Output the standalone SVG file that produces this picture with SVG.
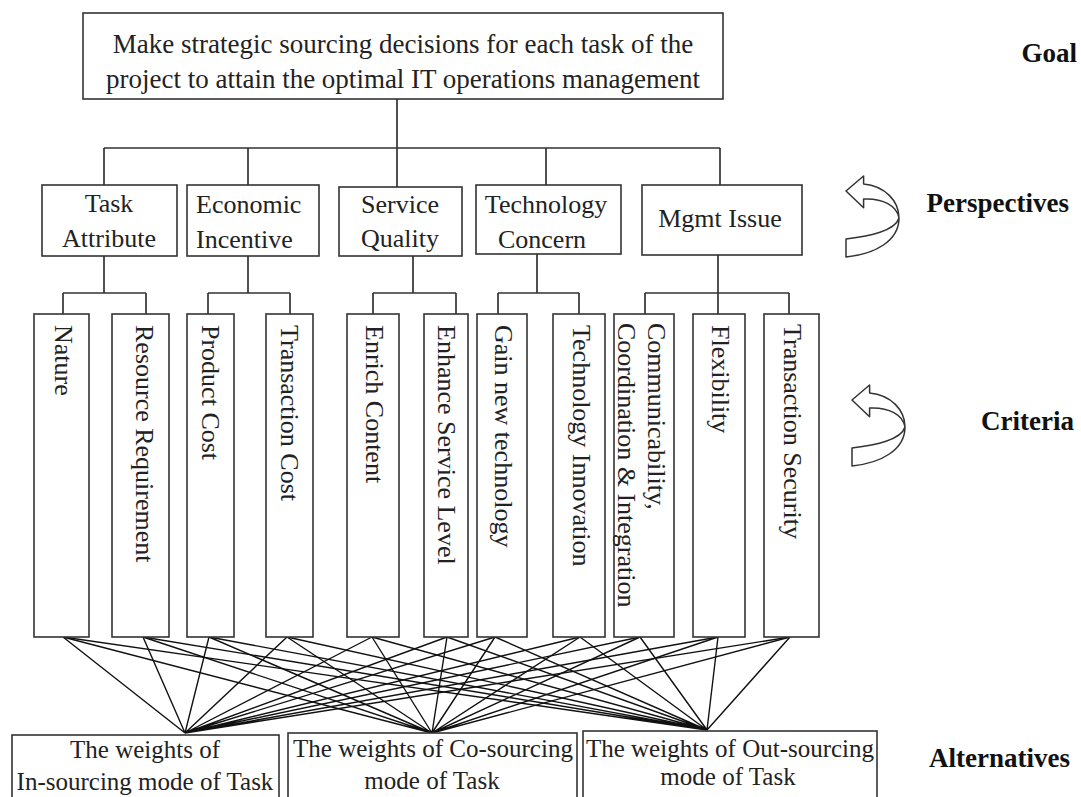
<svg xmlns="http://www.w3.org/2000/svg" width="1081" height="797" viewBox="0 0 1081 797">
<style>
.box{fill:#fff;stroke:#333;stroke-width:1.6}
.t{font-family:"Liberation Serif","Times New Roman",serif;fill:#222}
.g{font-size:27px;text-anchor:middle}
.p{font-size:26px;text-anchor:middle}
.c{font-size:26px}
.a{font-size:25px;text-anchor:middle}
.lbl{font-family:"Liberation Serif","Times New Roman",serif;font-weight:bold;font-size:27px;fill:#111;text-anchor:end}
.ln{stroke:#333;stroke-width:1.7;fill:none}
.mesh{stroke:#111;stroke-width:1.4;fill:none}
.arr{fill:#fff;stroke:#333;stroke-width:1.5;stroke-linejoin:round}
</style>
<defs>
<path id="curl" class="arr" d="M1,15 L18.6,0 L18.6,8 C40,10 54,25 54,42 C54,65 30,78 1,81 L1,63 C25,60 50,55 54,42 C52,30 38,22 18.6,23 L18.6,31.7 Z"/>
</defs>

<g id="connectors">
<path class="ln" d="M397,99 V148 M104,148 H720 M104,148 V185 M248,148 V185 M397,148 V187 M546,148 V185 M720,148 V185"/>
<path class="ln" d="M104,256 V293 M63,293 H146 M63,293 V314 M146,293 V314"/>
<path class="ln" d="M248,256 V293 M208,293 H290 M208,293 V314 M290,293 V314"/>
<path class="ln" d="M413,256 V293 M373,293 H456 M373,293 V314 M456,293 V314"/>
<path class="ln" d="M537,254 V293 M498,293 H579 M498,293 V314 M579,293 V314"/>
<path class="ln" d="M718,255 V293 M645,293 H789 M645,293 V314 M718,293 V314 M789,293 V314"/>
<path class="mesh" d="M63,637 L185,733 M143,637 L185,733 M209,637 L185,733 M287,637 L185,733 M372,637 L185,733 M447,637 L185,733 M495,637 L185,733 M580,637 L185,733 M640,637 L185,733 M718,637 L185,733 M790,637 L185,733"/>
<path class="mesh" d="M63,637 L432,733 M143,637 L432,733 M209,637 L432,733 M287,637 L432,733 M372,637 L432,733 M447,637 L432,733 M495,637 L432,733 M580,637 L432,733 M640,637 L432,733 M718,637 L432,733 M790,637 L432,733"/>
<path class="mesh" d="M63,637 L707,730 M143,637 L707,730 M209,637 L707,730 M287,637 L707,730 M372,637 L707,730 M447,637 L707,730 M495,637 L707,730 M580,637 L707,730 M640,637 L707,730 M718,637 L707,730 M790,637 L707,730"/>
</g>

<g id="goal">
<rect class="box" x="83" y="13" width="640" height="86"/>
<text class="t g" x="403" y="53">Make strategic sourcing decisions for each task of the</text>
<text class="t g" x="403" y="88">project to attain the optimal IT operations management</text>
</g>

<g id="p-task">
<rect class="box" x="42" y="185" width="135" height="71"/>
<text class="t p" x="109" y="212">Task</text>
<text class="t p" x="109" y="247">Attribute</text>
</g>
<g id="p-econ">
<rect class="box" x="187" y="185" width="132" height="71"/>
<text class="t c" x="196" y="213">Economic</text>
<text class="t c" x="196" y="248">Incentive</text>
</g>
<g id="p-service">
<rect class="box" x="339" y="187" width="123" height="69"/>
<text class="t p" x="400" y="213">Service</text>
<text class="t p" x="400" y="247">Quality</text>
</g>
<g id="p-tech">
<rect class="box" x="476" y="185" width="145" height="69"/>
<text class="t p" x="546" y="213">Technology</text>
<text class="t p" x="542" y="248">Concern</text>
</g>
<g id="p-mgmt">
<rect class="box" x="642" y="185" width="160" height="70"/>
<text class="t p" x="720" y="227">Mgmt Issue</text>
</g>

<g id="c-nature">
<rect class="box" x="34" y="314" width="55" height="323"/>
<text class="t c" transform="translate(55,325) rotate(90)">Nature</text>
</g>
<g id="c-resource">
<rect class="box" x="112" y="314" width="57" height="323"/>
<text class="t c" transform="translate(136,325) rotate(90)">Resource Requirement</text>
</g>
<g id="c-product">
<rect class="box" x="187" y="314" width="47" height="323"/>
<text class="t c" transform="translate(202,325) rotate(90)">Product Cost</text>
</g>
<g id="c-transcost">
<rect class="box" x="266" y="314" width="47" height="323"/>
<text class="t c" transform="translate(281,325) rotate(90)">Transaction Cost</text>
</g>
<g id="c-enrich">
<rect class="box" x="347" y="314" width="52" height="323"/>
<text class="t c" transform="translate(366,325) rotate(90)">Enrich Content</text>
</g>
<g id="c-enhance">
<rect class="box" x="424" y="314" width="44" height="323"/>
<text class="t c" transform="translate(438,325) rotate(90)">Enhance Service Level</text>
</g>
<g id="c-gain">
<rect class="box" x="477" y="314" width="50" height="323"/>
<text class="t c" transform="translate(495,325) rotate(90)">Gain new technology</text>
</g>
<g id="c-techinnov">
<rect class="box" x="553" y="314" width="52" height="323"/>
<text class="t c" transform="translate(573,325) rotate(90)">Technology Innovation</text>
</g>
<g id="c-comm">
<rect class="box" x="614" y="314" width="60" height="323"/>
<text class="t c" transform="translate(648,323) rotate(90)">Communicability,</text>
<text class="t c" transform="translate(618,323) rotate(90)">Coordination &amp; Integration</text>
</g>
<g id="c-flex">
<rect class="box" x="693" y="314" width="52" height="323"/>
<text class="t c" transform="translate(712,325) rotate(90)">Flexibility</text>
</g>
<g id="c-security">
<rect class="box" x="764" y="314" width="55" height="323"/>
<text class="t c" transform="translate(784,324) rotate(90)">Transaction Security</text>
</g>

<g id="alt-in">
<rect class="box" x="12" y="735" width="267" height="70"/>
<text class="t a" x="145" y="758">The weights of</text>
<text class="t a" x="145" y="790">In-sourcing mode of Task</text>
</g>
<g id="alt-co">
<rect class="box" x="288" y="733" width="289" height="72"/>
<text class="t a" x="433" y="757">The weights of Co-sourcing</text>
<text class="t a" x="432" y="789">mode of Task</text>
</g>
<g id="alt-out">
<rect class="box" x="583" y="731" width="294" height="74"/>
<text class="t a" x="730" y="757">The weights of Out-sourcing</text>
<text class="t a" x="728" y="785">mode of Task</text>
</g>

<g id="labels">
<text class="lbl" x="1077" y="62">Goal</text>
<use href="#curl" transform="translate(845,176)"/>
<text class="lbl" x="1069" y="212">Perspectives</text>
<use href="#curl" transform="translate(851,385)"/>
<text class="lbl" x="1074" y="430">Criteria</text>
<text class="lbl" x="1070" y="767">Alternatives</text>
</g>
</svg>
